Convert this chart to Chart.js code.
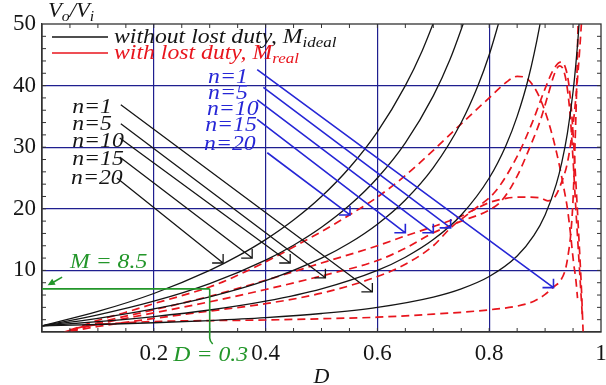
<!DOCTYPE html>
<html>
<head>
<meta charset="utf-8">
<script src="https://cdn.jsdelivr.net/npm/chart.js@4.4.0/dist/chart.umd.min.js"></script>
<style>
  html, body { margin: 0; padding: 0; background: #fff; }
</style>
</head>
<body>
<canvas id="chart" width="606" height="385"></canvas>
<script>
const xTicks = [0.2, 0.4, 0.6, 0.8, 1];
const yTicks = [10, 20, 30, 40, 50];
const turns = ['n=1', 'n=5', 'n=10', 'n=15', 'n=20'];

// ideal gain, solid black  [D, M]
const ideal1 = [[0,1],[0.1,1.22],[0.2,1.5],[0.3,1.86],[0.4,2.33],[0.5,3],[0.6,4],[0.7,5.67],[0.75,7],[0.8,9],[0.85,12.33],[0.88,15.67],[0.9,19],[0.92,24],[0.93,27.57],[0.94,32.33],[0.95,39],[0.955,43.44],[0.96,49],[0.965,56.14]];
const ideal5 = [[0,1],[0.1,1.67],[0.2,2.5],[0.3,3.57],[0.4,5],[0.5,7],[0.6,10],[0.65,12.14],[0.7,15],[0.75,19],[0.8,25],[0.83,30.29],[0.85,35],[0.87,41.15],[0.89,49.55],[0.9,55]];
const ideal10 = [[0,1],[0.1,2.22],[0.2,3.75],[0.3,5.71],[0.4,8.33],[0.5,12],[0.55,14.44],[0.6,17.5],[0.65,21.43],[0.7,26.67],[0.75,34],[0.78,40],[0.8,45],[0.82,51.11]];
const ideal15 = [[0,1],[0.1,2.78],[0.2,5],[0.3,7.86],[0.4,11.67],[0.45,14.09],[0.5,17],[0.55,20.56],[0.6,25],[0.65,30.71],[0.7,38.33],[0.73,44.26],[0.76,51.67]];
const ideal20 = [[0,1],[0.1,3.33],[0.2,6.25],[0.3,10],[0.35,12.31],[0.4,15],[0.45,18.18],[0.5,22],[0.55,26.67],[0.6,32.5],[0.65,40],[0.68,45.63],[0.71,52.45]];

// real gain with lost duty, dashed red  [D, M]
const real1 = [[0.04,0],[0.07,0.8],[0.1,1.2],[0.15,1.5],[0.2,1.7],[0.3,1.85],[0.4,1.95],[0.5,2.15],[0.6,2.4],[0.7,2.9],[0.75,3.2],[0.8,3.6],[0.85,4.2],[0.88,5],[0.9,6.1],[0.915,7.3],[0.928,8.4],[0.937,10.4],[0.942,13],[0.946,16],[0.95,21.5],[0.953,29],[0.956,38],[0.958,46],[0.96,54]];
const real5 = [[0.05,0.1],[0.1,0.9],[0.2,2.2],[0.3,3.4],[0.4,4.6],[0.5,6.3],[0.6,9],[0.65,11],[0.7,14],[0.731,16.9],[0.77,19.7],[0.811,22.8],[0.85,28.5],[0.877,34],[0.9,39.5],[0.915,42.6],[0.928,43.8],[0.936,43],[0.942,40.5],[0.948,35],[0.954,26],[0.96,16],[0.965,7],[0.968,0]];
const real10 = [[0.05,0.2],[0.1,1.3],[0.2,3.1],[0.3,4.9],[0.4,6.9],[0.5,9.1],[0.6,11.6],[0.65,13.6],[0.7,16.1],[0.75,18],[0.8,19.8],[0.824,21.5],[0.85,25.3],[0.87,29.4],[0.892,34.5],[0.905,38.4],[0.918,42.2],[0.926,43.2],[0.933,42.5],[0.939,40],[0.945,35],[0.95,28],[0.955,20],[0.96,12.5],[0.964,6.5],[0.967,2]];
const real15 = [[0.05,0.2],[0.1,1.5],[0.2,3.6],[0.3,5.8],[0.4,8.4],[0.5,11.2],[0.6,14],[0.65,15.6],[0.7,17.1],[0.75,18.8],[0.8,21],[0.83,21.7],[0.86,21.9],[0.89,21.8],[0.905,21.3],[0.918,22],[0.931,24.7],[0.94,27.5],[0.949,32.8],[0.956,39],[0.962,46],[0.967,53]];
const real20 = [[0.05,0.3],[0.1,1.9],[0.15,3.2],[0.2,4.6],[0.25,5.9],[0.3,7.3],[0.35,9.2],[0.4,11.4],[0.45,13.8],[0.5,16.3],[0.55,19],[0.6,21.9],[0.65,25.4],[0.7,29.5],[0.75,33.8],[0.8,38],[0.83,40.5],[0.85,41.5],[0.865,41.3],[0.88,39.8],[0.892,37.7],[0.905,34.4],[0.915,31.2],[0.925,27.3],[0.933,23.6],[0.94,20],[0.946,15.5],[0.951,11.2],[0.955,8.5],[0.958,5.5]];

const operating = { D: 0.3, M: 7 };

const serif = '"Liberation Serif", "DejaVu Serif", serif';
const gridBlue = '#1f1f8f';
const arrowBlue = '#2626d6';
const lineRed = '#e8151d';
const green = '#23962a';
const stretch = 1.13; // the source text is a little wide

function solid(data) {
  return { data, showLine: true, borderColor: '#151515', borderWidth: 1.3, pointRadius: 0, cubicInterpolationMode: 'monotone' };
}
function dashed(data) {
  return { data, showLine: true, borderColor: lineRed, borderWidth: 1.7, borderDash: [8, 5], pointRadius: 0, cubicInterpolationMode: 'monotone' };
}

// annotation anchors, in axis units
const blackNotes = [[0.054, 36.4], [0.054, 33.7], [0.054, 30.9], [0.054, 28], [0.052, 24.9]];
const blackPaths = [[0.141, 36.9, 0.591, 6.5], [0.141, 33.8, 0.507, 8.8], [0.139, 31.5, 0.444, 11.2], [0.139, 28.4, 0.376, 12.0], [0.134, 25.0, 0.324, 11.2]];
const blueNotes = [[0.297, 41.3], [0.297, 38.7], [0.295, 36.2], [0.292, 33.6], [0.29, 30.4]];
const bluePaths = [[0.385, 42.6, 0.915, 7.2], [0.396, 39.7, 0.731, 16.9], [0.385, 37.7, 0.7, 16.1], [0.385, 34.5, 0.65, 16.1], [0.403, 29.1, 0.551, 19.0]];

function arrow(ctx, x1, y1, x2, y2) {
  ctx.beginPath();
  ctx.moveTo(x1, y1);
  ctx.lineTo(x2, y2);
  ctx.moveTo(x2 - 11, y2);
  ctx.lineTo(x2, y2);
  ctx.lineTo(x2, y2 - 9);
  ctx.stroke();
}

// text runs: [string, isSubscript], drawn slightly stretched
function rich(ctx, runs, x, y, size) {
  ctx.save();
  ctx.translate(x, y);
  ctx.scale(stretch, 1);
  let cx = 0;
  runs.forEach(([t, sub]) => {
    ctx.font = 'italic ' + (sub ? Math.round(size * 0.72) : size) + 'px ' + serif;
    ctx.fillText(t, cx, sub ? size * 0.28 : 0);
    cx += ctx.measureText(t).width;
  });
  ctx.restore();
}

const decor = {
  id: 'decor',
  afterDatasetsDraw(chart) {
    const { ctx, chartArea: a, scales: { x, y } } = chart;
    const px = d => x.getPixelForValue(d);
    const py = m => y.getPixelForValue(m);
    ctx.save();

    // frame and minor ticks
    ctx.strokeStyle = '#333';
    ctx.lineWidth = 1.3;
    ctx.strokeRect(a.left, a.top, a.right - a.left, a.bottom - a.top);
    ctx.lineWidth = 1;
    ctx.beginPath();
    for (let i = 1; i < 20; i++) {
      const xx = px(i * 0.05);
      ctx.moveTo(xx, a.top); ctx.lineTo(xx, a.top + 4);
      ctx.moveTo(xx, a.bottom); ctx.lineTo(xx, a.bottom - 4);
    }
    for (let i = 1; i < 25; i++) {
      const yy = py(i * 2);
      ctx.moveTo(a.left, yy); ctx.lineTo(a.left + 4, yy);
      ctx.moveTo(a.right, yy); ctx.lineTo(a.right - 4, yy);
    }
    ctx.stroke();

    // legend
    ctx.lineWidth = 1.4;
    ctx.strokeStyle = '#151515';
    ctx.beginPath(); ctx.moveTo(a.left + 10, 37); ctx.lineTo(a.left + 66, 37); ctx.stroke();
    ctx.strokeStyle = lineRed;
    ctx.beginPath(); ctx.moveTo(a.left + 10, 53); ctx.lineTo(a.left + 66, 53); ctx.stroke();
    ctx.textBaseline = 'middle';
    ctx.textAlign = 'left';
    ctx.fillStyle = '#151515';
    rich(ctx, [['without lost duty, M', false], ['ideal', true]], a.left + 72, 37, 21);
    ctx.fillStyle = lineRed;
    rich(ctx, [['with lost duty, M', false], ['real', true]], a.left + 72, 53, 21);

    // axis title on top
    ctx.fillStyle = '#151515';
    rich(ctx, [['V', false], ['o', true], ['/V', false], ['i', true]], a.left + 6, 12, 20);

    // black labels and arrows
    ctx.strokeStyle = '#151515';
    ctx.lineWidth = 1.3;
    turns.forEach((t, i) => {
      rich(ctx, [[t, false]], px(blackNotes[i][0]), py(blackNotes[i][1]), 21);
      const p = blackPaths[i];
      arrow(ctx, px(p[0]), py(p[1]), px(p[2]), py(p[3]));
    });

    // blue labels and arrows
    ctx.fillStyle = arrowBlue;
    ctx.strokeStyle = arrowBlue;
    ctx.lineWidth = 1.6;
    turns.forEach((t, i) => {
      rich(ctx, [[t, false]], px(blueNotes[i][0]), py(blueNotes[i][1]), 21);
      const p = bluePaths[i];
      arrow(ctx, px(p[0]), py(p[1]), px(p[2]), py(p[3]));
    });

    // operating point
    const ox = px(operating.D), oy = py(operating.M);
    ctx.strokeStyle = green;
    ctx.fillStyle = green;
    ctx.lineWidth = 1.6;
    ctx.beginPath();
    ctx.moveTo(a.left, oy); ctx.lineTo(ox, oy);
    ctx.moveTo(ox, oy); ctx.lineTo(ox, a.bottom + 6);
    ctx.quadraticCurveTo(ox, a.bottom + 9, ox + 3, a.bottom + 12);
    ctx.stroke();
    // small pointer toward the M axis
    const sx = px(0.036), sy = py(8.9), ex = px(0.01), ey = py(7.6);
    ctx.beginPath(); ctx.moveTo(sx, sy); ctx.lineTo(ex + 4, ey - 2); ctx.stroke();
    const ang = Math.atan2(ey - sy, ex - sx);
    ctx.beginPath();
    ctx.moveTo(ex, ey);
    ctx.lineTo(ex - 8 * Math.cos(ang - 0.45), ey - 8 * Math.sin(ang - 0.45));
    ctx.lineTo(ex - 8 * Math.cos(ang + 0.45), ey - 8 * Math.sin(ang + 0.45));
    ctx.closePath();
    ctx.fill();
    rich(ctx, [['M = 8.5', false]], px(0.05), py(11.3), 21);
    rich(ctx, [['D = 0.3', false]], px(0.235), a.bottom + 23, 21);

    ctx.restore();
  }
};

const chart = new Chart(document.getElementById('chart').getContext('2d'), {
  type: 'scatter',
  data: {
    datasets: [
      solid(ideal1), solid(ideal5), solid(ideal10), solid(ideal15), solid(ideal20),
      dashed(real1), dashed(real5), dashed(real10), dashed(real15), dashed(real20)
    ]
  },
  options: {
    responsive: false,
    animation: false,
    events: [],
    layout: { padding: { top: 24, right: 5, left: 0, bottom: 0 } },
    plugins: { legend: { display: false }, tooltip: { enabled: false } },
    scales: {
      x: {
        type: 'linear',
        min: 0,
        max: 1,
        afterFit: s => { s.height = 53; s.paddingLeft = 0; s.paddingRight = 0; },
        afterBuildTicks: s => { s.ticks = [0].concat(xTicks).map(v => ({ value: v })); },
        ticks: {
          padding: 8,
          maxRotation: 0,
          color: '#151515',
          font: { family: serif, size: 23 },
          callback: v => (v === 0 ? '' : (v === 1 ? '1' : v.toFixed(1)))
        },
        grid: {
          drawTicks: false,
          lineWidth: 1.2,
          color: c => (c.tick && c.tick.value > 0 && c.tick.value < 1 ? gridBlue : 'rgba(0,0,0,0)')
        },
        border: { color: '#333', width: 1.3 },
        title: {
          display: true,
          text: 'D',
          color: '#151515',
          font: { family: serif, size: 22, style: 'italic' },
          padding: { top: 0, bottom: -5 }
        }
      },
      y: {
        min: 0,
        max: 50,
        afterFit: s => { s.width = 42; s.paddingTop = 0; s.paddingBottom = 0; },
        afterBuildTicks: s => { s.ticks = [0].concat(yTicks).map(v => ({ value: v })); },
        ticks: {
          padding: 6,
          color: '#151515',
          font: { family: serif, size: 23 },
          callback: v => (v === 0 ? '' : String(v))
        },
        grid: {
          drawTicks: false,
          lineWidth: 1.2,
          color: c => (c.tick && c.tick.value > 0 && c.tick.value < 50 ? gridBlue : 'rgba(0,0,0,0)')
        },
        border: { color: '#333', width: 1.3 }
      }
    }
  },
  plugins: [decor]
});
</script>
</body>
</html>
